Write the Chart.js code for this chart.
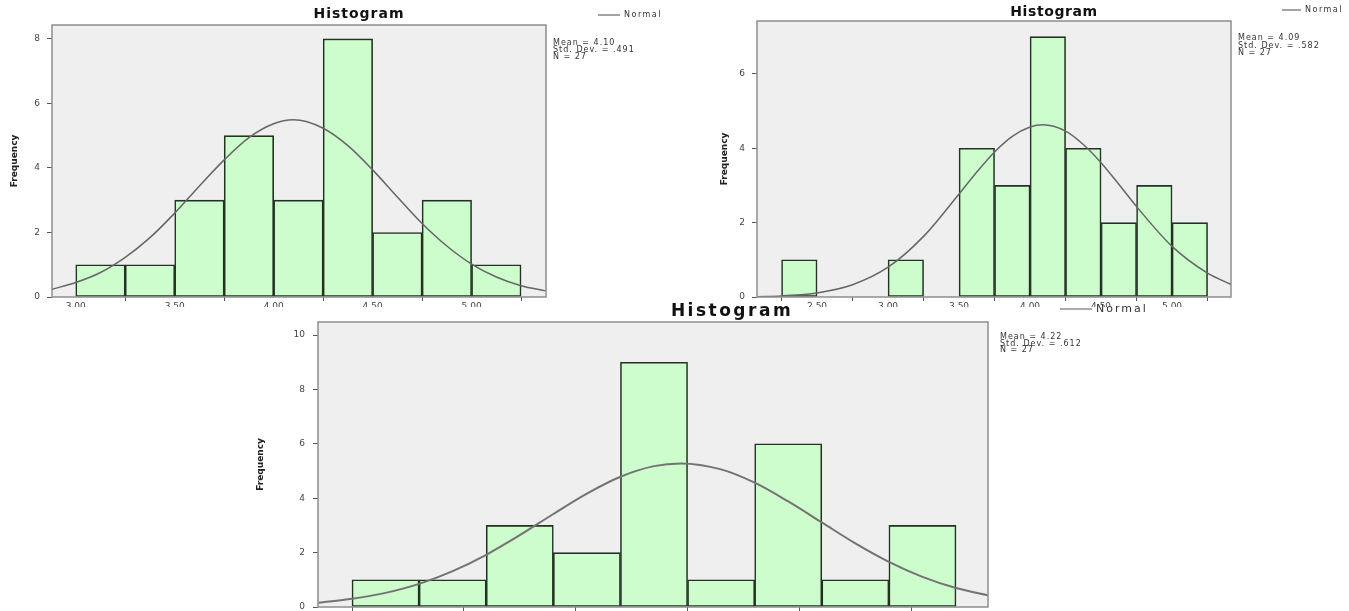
<!DOCTYPE html>
<html>
<head>
<meta charset="utf-8">
<title>Histograms</title>
<script src="https://cdn.jsdelivr.net/npm/chart.js@4.4.1/dist/chart.umd.min.js"></script>
<style>
  html, body { margin: 0; padding: 0; background: #fff; }
  body { width: 1349px; height: 611px; position: relative; overflow: hidden; }
  canvas { position: absolute; }
  #cover { position: absolute; left: 0; top: 307px; width: 1349px; height: 304px; background: #fff; }
</style>
</head>
<body>
<canvas id="hist1" width="700" height="320" style="left:0;top:0"></canvas>
<canvas id="hist2" width="649" height="320" style="left:700px;top:0"></canvas>
<div id="cover"></div>
<canvas id="hist3" width="920" height="330" style="left:240px;top:300px"></canvas>
<script>
// histogram 1 (top left)
const bins1 = [3.125, 3.375, 3.625, 3.875, 4.125, 4.375, 4.625, 4.875, 5.125];
const counts1 = [1, 1, 3, 5, 3, 8, 2, 3, 1];
const normalX1 = [2.88, 3.0, 3.125, 3.25, 3.375, 3.5, 3.625, 3.75, 3.875, 4.0, 4.1, 4.25, 4.375, 4.5, 4.625, 4.75, 4.875, 5.0, 5.125, 5.25, 5.375];
const normalY1 = [0.24, 0.45, 0.76, 1.23, 1.84, 2.60, 3.44, 4.25, 4.94, 5.37, 5.49, 5.23, 4.69, 3.94, 3.10, 2.28, 1.58, 1.02, 0.62, 0.35, 0.19];
const stats1 = ['Mean = 4.10', 'Std. Dev. = .491', 'N = 27'];

// histogram 2 (top right)
const bins2 = [2.375, 2.625, 2.875, 3.125, 3.375, 3.625, 3.875, 4.125, 4.375, 4.625, 4.875, 5.125];
const counts2 = [1, 0, 0, 1, 0, 4, 3, 7, 4, 2, 3, 2];
const normalX2 = [2.08, 2.25, 2.5, 2.75, 3.0, 3.25, 3.5, 3.625, 3.75, 3.875, 4.0, 4.09, 4.25, 4.375, 4.5, 4.625, 4.75, 5.0, 5.25, 5.42];
const normalY2 = [0.01, 0.03, 0.11, 0.33, 0.80, 1.63, 2.77, 3.36, 3.90, 4.32, 4.57, 4.63, 4.46, 4.10, 3.61, 3.03, 2.43, 1.36, 0.64, 0.33];
const stats2 = ['Mean = 4.09', 'Std. Dev. = .582', 'N = 27'];

// histogram 3 (bottom)
const bins3 = [2.9, 3.2, 3.5, 3.8, 4.1, 4.4, 4.7, 5.0, 5.3];
const counts3 = [1, 1, 3, 2, 9, 1, 6, 1, 3];
const normalX3 = [2.6, 2.75, 2.9, 3.05, 3.2, 3.35, 3.5, 3.65, 3.8, 3.95, 4.1, 4.22, 4.4, 4.55, 4.7, 4.85, 5.0, 5.15, 5.3, 5.45, 5.6];
const normalY3 = [0.16, 0.30, 0.52, 0.85, 1.32, 1.92, 2.64, 3.42, 4.17, 4.79, 5.18, 5.28, 5.06, 4.57, 3.88, 3.11, 2.34, 1.66, 1.11, 0.70, 0.42];
const stats3 = ['Mean = 4.22', 'Std. Dev. = .612', 'N = 27'];

const FONT = "'DejaVu Sans', sans-serif";

function histogram(id, bins, counts, normalX, normalY, stats, look) {
  // fondo gris, marco, título, leyenda y estadísticos al estilo SPSS
  const decor = {
    id: 'decor',
    beforeDraw(chart) {
      const { ctx, chartArea: a } = chart;
      ctx.save();
      ctx.fillStyle = '#efefef';
      ctx.fillRect(a.left, a.top, a.right - a.left, a.bottom - a.top);
      ctx.restore();
    },
    afterDraw(chart) {
      const { ctx, chartArea: a } = chart;
      ctx.save();
      ctx.strokeStyle = '#8e8e8e';
      ctx.lineWidth = 1.5;
      ctx.strokeRect(a.left, a.top, a.right - a.left, a.bottom - a.top);

      ctx.fillStyle = '#111';
      ctx.textBaseline = 'middle';
      ctx.textAlign = 'center';
      ctx.font = 'bold ' + look.titleSize + 'px ' + FONT;
      ctx.letterSpacing = look.titleSpacing + 'px';
      ctx.fillText('Histogram', look.titleX, look.titleY);

      ctx.strokeStyle = look.curveColor;
      ctx.lineWidth = 1.2;
      ctx.beginPath();
      ctx.moveTo(look.legendX, look.legendY);
      ctx.lineTo(look.legendX + look.legendLen, look.legendY);
      ctx.stroke();
      ctx.textAlign = 'left';
      ctx.fillStyle = '#333';
      ctx.font = look.legendSize + 'px ' + FONT;
      ctx.letterSpacing = look.legendSpacing + 'px';
      ctx.fillText('Normal', look.legendX + look.legendLen + 4, look.legendY);

      ctx.font = '8px ' + FONT;
      ctx.letterSpacing = '1px';
      stats.forEach((line, i) => ctx.fillText(line, look.statsX, look.statsY + i * look.statsGap));
      ctx.restore();
    }
  };

  const tickFont = { family: FONT, size: 9 };

  return new Chart(document.getElementById(id).getContext('2d'), {
    type: 'bar',
    data: {
      datasets: [
        {
          type: 'line',
          label: 'Normal',
          data: normalX.map((x, i) => ({ x, y: normalY[i] })),
          borderColor: look.curveColor,
          borderWidth: look.curveWidth,
          pointRadius: 0,
          cubicInterpolationMode: 'monotone',
          order: 0
        },
        {
          type: 'bar',
          label: 'Frequency',
          data: bins.map((x, i) => ({ x, y: counts[i] || null })),
          backgroundColor: '#cdfccd',
          borderColor: '#223322',
          borderWidth: 1.6,
          borderSkipped: false,
          barPercentage: 1,
          categoryPercentage: 1,
          order: 1
        }
      ]
    },
    options: {
      responsive: false,
      animation: false,
      events: [],
      layout: { padding: { top: look.padTop, right: look.padRight, left: 0, bottom: 0 } },
      plugins: { legend: { display: false }, tooltip: { enabled: false } },
      scales: {
        x: {
          type: 'linear',
          min: look.xMin,
          max: look.xMax,
          offset: false,
          afterFit: s => { s.height = look.xAxisH; },
          ticks: {
            stepSize: 0.5,
            includeBounds: false,
            autoSkip: false,
            maxRotation: 0,
            padding: 0,
            font: tickFont,
            color: '#444',
            callback: v => v.toFixed(2)
          },
          grid: { drawOnChartArea: false, tickLength: 4, color: '#555' },
          border: { display: false }
        },
        y: {
          min: 0,
          max: look.yMax,
          afterFit: s => { s.width = look.yAxisW; },
          ticks: { stepSize: 2, includeBounds: false, padding: look.yTickPad, font: tickFont, color: '#444' },
          title: {
            display: true,
            text: 'Frequency',
            color: '#222',
            font: { family: FONT, size: 9, weight: 'bold' },
            padding: { top: look.yTitlePad, bottom: 0 }
          },
          grid: { drawOnChartArea: false, tickLength: 5, color: '#555' },
          border: { display: false }
        }
      }
    },
    plugins: [decor]
  });
}

histogram('hist1', bins1, counts1, normalX1, normalY1, stats1, {
  xMin: 2.88, xMax: 5.376, yMax: 8.43,
  padTop: 25, padRight: 154, xAxisH: 23, yAxisW: 52, yTickPad: 7, yTitlePad: 9,
  curveColor: '#666', curveWidth: 1.5,
  titleX: 359, titleY: 14, titleSize: 14, titleSpacing: 1,
  legendX: 598, legendY: 15, legendLen: 22, legendSize: 8, legendSpacing: 1.5,
  statsX: 553, statsY: 43, statsGap: 7
});

histogram('hist2', bins2, counts2, normalX2, normalY2, stats2, {
  xMin: 2.077, xMax: 5.415, yMax: 7.42,
  padTop: 21, padRight: 118, xAxisH: 23, yAxisW: 57, yTickPad: 7, yTitlePad: 19,
  curveColor: '#666', curveWidth: 1.5,
  titleX: 354, titleY: 12, titleSize: 14, titleSpacing: 0.6,
  legendX: 582, legendY: 10, legendLen: 19, legendSize: 8, legendSpacing: 1.5,
  statsX: 538, statsY: 38, statsGap: 7.5
});

histogram('hist3', bins3, counts3, normalX3, normalY3, stats3, {
  xMin: 2.598, xMax: 5.593, yMax: 10.48,
  padTop: 22, padRight: 172, xAxisH: 23, yAxisW: 78, yTickPad: 8, yTitlePad: 15,
  curveColor: '#737373', curveWidth: 2,
  titleX: 492, titleY: 12, titleSize: 17, titleSpacing: 2.5,
  legendX: 820, legendY: 9, legendLen: 32, legendSize: 11, legendSpacing: 2,
  statsX: 760, statsY: 37, statsGap: 6.5
});
</script>
</body>
</html>
